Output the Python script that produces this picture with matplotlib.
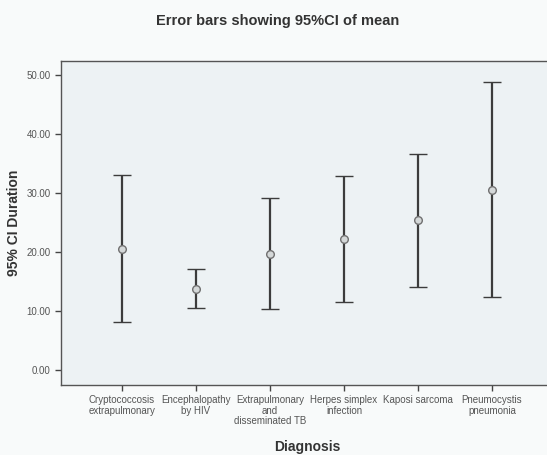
import numpy as np
import matplotlib
matplotlib.use("Agg")
import matplotlib.pyplot as plt

plt.rcParams['font.family'] = ['Liberation Sans', 'DejaVu Sans']

# data
diagnoses = ["Cryptococcosis\nextrapulmonary", "Encephalopathy\nby HIV",
             "Extrapulmonary\nand\ndisseminated TB", "Herpes simplex\ninfection",
             "Kaposi sarcoma", "Pneumocystis\npneumonia"]
means = [20.6, 13.8, 19.7, 22.2, 25.4, 30.6]
lower = [8.2, 10.6, 10.3, 11.5, 14.0, 12.3]
upper = [33.1, 17.2, 29.1, 32.9, 36.7, 48.8]
yticks = [0, 10, 20, 30, 40, 50]

fig = plt.figure(figsize=(5.47, 4.55), dpi=100, facecolor='#f8fafa')
ax = fig.add_axes([61/547, 70/455, 492/547, 324/455], facecolor='#edf2f4')

x = np.arange(len(diagnoses))
means = np.array(means)
err = [means - np.array(lower), np.array(upper) - means]

ax.errorbar(x, means, yerr=err, fmt='o', color='#3c3c3c', ecolor='#3c3c3c',
            elinewidth=1.6, capsize=6.5, capthick=1.6, markersize=5.5,
            markerfacecolor='#d4d8d8', markeredgecolor='#707070', markeredgewidth=1.0)

ax.set_xlim(-0.824, 5.824)
ax.set_ylim(-2.54, 52.4)
ax.set_yticks(yticks)
ax.set_yticklabels(["%.2f" % v for v in yticks])
ax.set_xticks(x)
ax.set_xticklabels(diagnoses, linespacing=1.1)
ax.tick_params(axis='both', labelsize=7, labelcolor='#555555', color='#444444',
               length=4, width=1.0, direction='out')
ax.tick_params(axis='x', pad=3)
for s in ax.spines.values():
    s.set_color('#555555')
    s.set_linewidth(1.0)

ax.set_xlabel("Diagnosis", fontsize=10, fontweight='bold', color='#333333', labelpad=10)
ax.set_ylabel("95% CI Duration", fontsize=10, fontweight='bold', color='#333333', labelpad=4)
fig.text(0.507, 0.954, "Error bars showing 95%CI of mean", ha='center', va='center',
         fontsize=10.5, fontweight='bold', color='#333333')

fig.savefig("out.png", dpi=100, facecolor=fig.get_facecolor())
